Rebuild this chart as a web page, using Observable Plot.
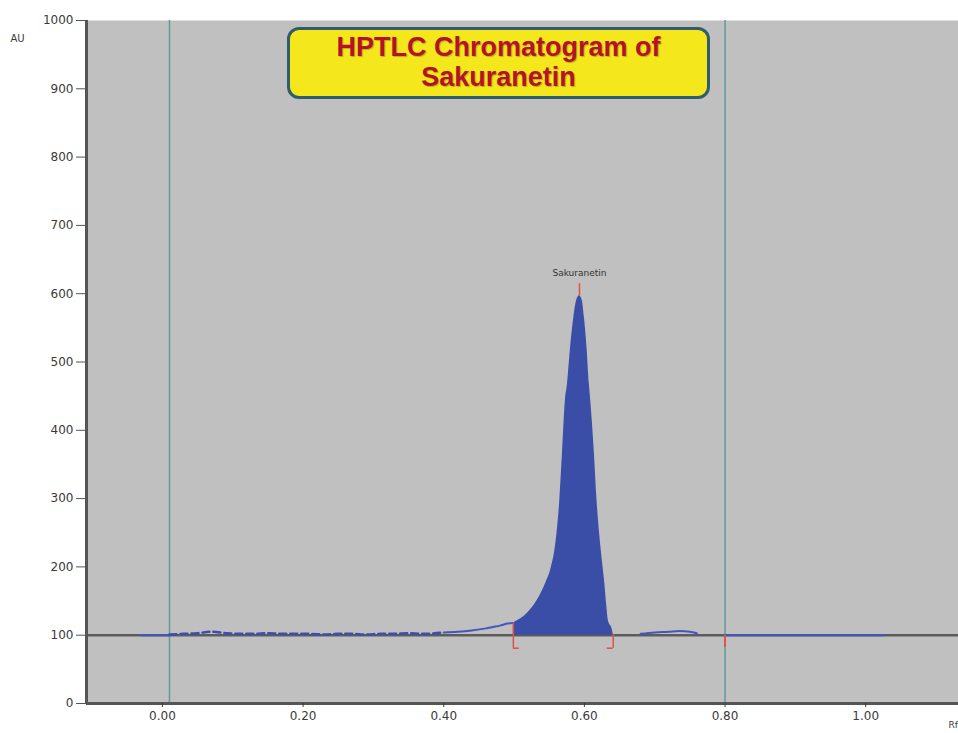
<!DOCTYPE html>
<html><head><meta charset="utf-8">
<script src="https://cdn.jsdelivr.net/npm/d3@7"></script>
<script src="https://cdn.jsdelivr.net/npm/@observablehq/plot@0.6"></script>
<style>
body{margin:0;background:#fff;}
#wrap{position:relative;width:958px;height:733px;overflow:hidden;}
#title{position:absolute;left:287px;top:27px;width:423px;height:72px;box-sizing:border-box;
 border:3px solid #2f5d6e;border-radius:12px;background:#f4e81c;color:#b5122a;
 font:bold 27px/30px "Liberation Sans",Arial,sans-serif;text-align:center;padding-top:2px;
 text-shadow:1px 1px 1px rgba(0,0,0,0.25);}
</style></head><body>
<div id="wrap"><div id="chart"></div><div id="title">HPTLC Chromatogram of<br>Sakuranetin</div></div>
<script>
// ---- data ----
const yTicks = [0, 100, 200, 300, 400, 500, 600, 700, 800, 900, 1000];
const xTicks = [0.0, 0.2, 0.4, 0.6, 0.8, 1.0];
const xDomain = [-0.108, 1.132];
const yDomain = [0, 1000];
const baselineAU = 100;
const plateLines = [0.01, 0.80];           // application line, solvent front

const leadRf = [-0.03, 0.01];
const leadAu = [100, 100];

const noiseRf = [0.01, 0.03, 0.05, 0.07, 0.09, 0.11, 0.13, 0.15, 0.17, 0.19, 0.21, 0.23, 0.25, 0.27, 0.29, 0.31, 0.33, 0.35, 0.37, 0.40];
const noiseAu = [101, 102, 103, 105, 103, 102, 102, 103, 102, 102, 102, 101, 102, 102, 101, 102, 102, 103, 102, 104];

const tailRf = [0.40, 0.42, 0.44, 0.46, 0.47, 0.48, 0.49, 0.499];
const tailAu = [104, 105, 107, 110, 112, 114, 117, 118];

const peakRf = [0.499, 0.519, 0.533, 0.545, 0.553, 0.558, 0.561, 0.565, 0.569, 0.573, 0.576, 0.580, 0.585, 0.589, 0.593, 0.597, 0.600, 0.604, 0.607, 0.609, 0.614, 0.618, 0.624, 0.629, 0.632, 0.634, 0.640, 0.641];
const peakAu = [118, 132, 151, 176, 199, 224, 249, 297, 370, 444, 468, 517, 565, 590, 597, 590, 565, 517, 468, 444, 370, 297, 224, 176, 141, 122, 107, 101];

const humpRf = [0.68, 0.70, 0.72, 0.735, 0.75, 0.76];
const humpAu = [102, 104, 105, 106, 105, 103];

const frontRf = [0.80, 1.026];
const frontAu = [100, 100];

const peakNames = ["Sakuranetin"];
const peakMaxRf = [0.593];
const peakMaxAu = [597];
const integStart = [0.499];
const integStartAu = [118];
const integEnd = [0.641];
const integEndAu = [101];
const frontMark = [0.80];

// ---- build tables ----
const rows = (rf, au) => rf.map((r, i) => ({rf: r, au: au[i]}));
const lead = rows(leadRf, leadAu);
const noise = rows(noiseRf, noiseAu);
const tail = rows(tailRf, tailAu);
const peak = rows(peakRf, peakAu);
const hump = rows(humpRf, humpAu);
const front = rows(frontRf, frontAu);
const peakTop = peakNames.map((n, i) => ({name: n, rf: peakMaxRf[i], au: peakMaxAu[i]}));
const starts = rows(integStart, integStartAu);
const ends = rows(integEnd, integEndAu);

const blue = "#4654c0", fillBlue = "#3a4ea8", red = "#e0504a";

const chart = Plot.plot({
  width: 958, height: 733,
  marginLeft: 86, marginRight: 0, marginTop: 20, marginBottom: 30,
  style: {fontFamily: "DejaVu Sans, sans-serif", fontSize: "12px", color: "#3a3a3a", background: "#fff"},
  x: {domain: xDomain},
  y: {domain: yDomain},
  marks: [
    Plot.frame({fill: "#c0c0c0", stroke: null}),
    Plot.ruleX(plateLines, {stroke: "#5e9a9a", strokeWidth: 1.5}),
    Plot.ruleY([baselineAU], {stroke: "#5c5c5c", strokeWidth: 2.5}),
    Plot.areaY(peak, {x: "rf", y1: baselineAU, y2: "au", fill: fillBlue, curve: "monotone-x"}),
    Plot.line(lead, {x: "rf", y: "au", stroke: blue, strokeWidth: 2}),
    Plot.line(noise, {x: "rf", y: "au", stroke: "#3e4cb4", strokeWidth: 2.5, strokeDasharray: "7,4", curve: "monotone-x"}),
    Plot.line(tail, {x: "rf", y: "au", stroke: blue, strokeWidth: 2, curve: "monotone-x"}),
    Plot.line(hump, {x: "rf", y: "au", stroke: blue, strokeWidth: 2, curve: "monotone-x"}),
    Plot.line(front, {x: "rf", y: "au", stroke: blue, strokeWidth: 2}),
    // integration brackets
    Plot.ruleX(starts, {x: "rf", y1: "au", y2: baselineAU, insetBottom: -13, stroke: red, strokeWidth: 1.5}),
    Plot.ruleY(starts, {x1: "rf", x2: "rf", y: baselineAU, dy: 13, insetRight: -6, stroke: red, strokeWidth: 1.5}),
    Plot.ruleX(ends, {x: "rf", y1: "au", y2: baselineAU, insetBottom: -13, stroke: red, strokeWidth: 1.5}),
    Plot.ruleY(ends, {x1: "rf", x2: "rf", y: baselineAU, dy: 13, insetLeft: -6, stroke: red, strokeWidth: 1.5}),
    Plot.ruleX(frontMark, {y1: baselineAU, y2: baselineAU, insetBottom: -12, stroke: red, strokeWidth: 2}),
    // peak marker and label
    Plot.ruleX(peakTop, {x: "rf", y1: "au", y2: "au", insetTop: -12, stroke: red, strokeWidth: 1.5}),
    Plot.text(peakTop, {x: "rf", y: "au", text: "name", dy: -23, fontSize: 9, fill: "#333"}),
    // axes
    Plot.ruleX([xDomain[0]], {stroke: "#555", strokeWidth: 3}),
    Plot.ruleY([yDomain[0]], {stroke: "#555", strokeWidth: 3}),
    Plot.axisY({ticks: yTicks, tickFormat: d3.format("d"), tickSize: 10, tickPadding: 3, label: null, stroke: "#555"}),
    Plot.axisX({ticks: xTicks, tickFormat: d3.format(".2f"), tickSize: 4, tickPadding: 4, label: null}),
    Plot.text(["AU"], {frameAnchor: "top-left", dx: -76, dy: 14, textAnchor: "start", fontSize: 10, fill: "#3a3a3a"}),
    Plot.text(["Rf"], {frameAnchor: "bottom-right", dx: -10, dy: 24, textAnchor: "start", fontSize: 9, fill: "#3a3a3a"})
  ]
});
document.getElementById("chart").appendChild(chart);
</script>
</body></html>
